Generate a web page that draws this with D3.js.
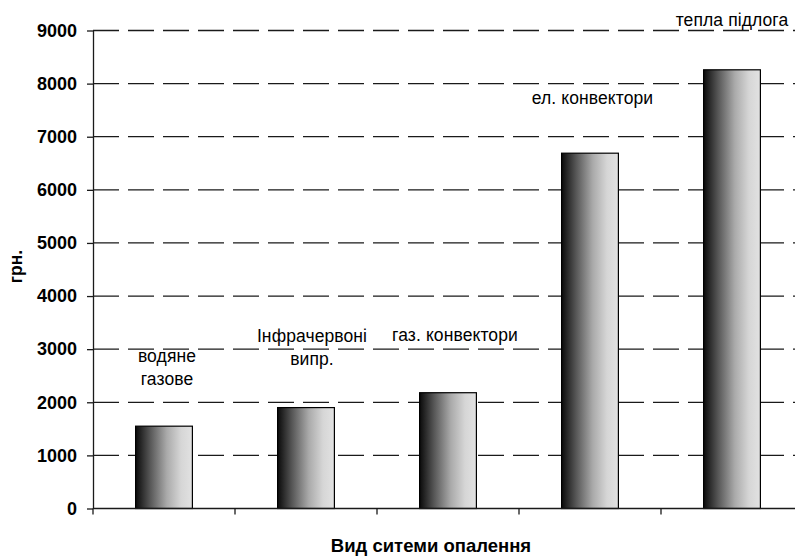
<!DOCTYPE html>
<html>
<head>
<meta charset="utf-8">
<script src="https://cdn.jsdelivr.net/npm/d3@7"></script>
<style>
  html, body { margin: 0; padding: 0; background: #fff; }
  svg { display: block; font-family: "Liberation Sans", Arial, sans-serif; }
</style>
</head>
<body>
<svg id="chart" width="795" height="557"></svg>
<script>
// Heating system types and their cost, UAH
const categories = ["водяне газове", "Інфрачервоні випр.", "газ. конвектори", "ел. конвектори", "тепла підлога"];
const costs = [1550, 1900, 2180, 6690, 8260];
// Annotation lines shown above each bar
const labelLines = [["водяне", "газове"], ["Інфрачервоні", "випр."], ["газ. конвектори"], ["ел. конвектори"], ["тепла підлога"]];
const yTicks = [0, 1000, 2000, 3000, 4000, 5000, 6000, 7000, 8000, 9000];
const yTitle = "грн.";
const xTitle = "Вид ситеми опалення";

const svg = d3.select("#chart");
const plot = { left: 93, right: 803, top: 30.5, bottom: 508.5 };

const x = d3.scaleBand().domain(categories).range([plot.left, plot.right]).paddingInner(0.6).paddingOuter(0.3);
const y = d3.scaleLinear().domain([0, 9000]).range([plot.bottom, plot.top]);

// Bar shading: dark on the left, fading to light grey on the right
const defs = svg.append("defs");
const grad = defs.append("linearGradient").attr("id", "barShade").attr("x1", "0").attr("x2", "1").attr("y1", "0").attr("y2", "0");
[[0, "#0a0a0a"], [0.25, "#555"], [0.55, "#aaa"], [0.8, "#d6d6d6"], [1, "#e2e2e2"]].forEach(([o, c]) =>
  grad.append("stop").attr("offset", o).attr("stop-color", c));

// Dashed horizontal gridlines
svg.append("g").selectAll("line").data(yTicks.filter(d => d > 0)).join("line")
  .attr("x1", plot.left).attr("x2", 795)
  .attr("y1", d => y(d)).attr("y2", d => y(d))
  .attr("stroke", "#1a1a1a").attr("stroke-width", 1.3)
  .attr("stroke-dasharray", "26,9");

// Bars
svg.append("g").selectAll("rect").data(costs).join("rect")
  .attr("x", (d, i) => x(categories[i]))
  .attr("width", x.bandwidth())
  .attr("y", d => y(d))
  .attr("height", d => y(0) - y(d))
  .attr("fill", "url(#barShade)")
  .attr("stroke", "#000").attr("stroke-width", 1.2);

// Y axis
const yAxis = svg.append("g").attr("transform", `translate(${plot.left},0)`)
  .call(d3.axisLeft(y).tickValues(yTicks).tickFormat(d3.format("d")).tickSize(6).tickPadding(10).tickSizeOuter(0));
yAxis.select(".domain").attr("stroke", "#1a1a1a").attr("stroke-width", 1.3);
yAxis.selectAll(".tick line").attr("stroke", "#1a1a1a").attr("stroke-width", 1.3);
yAxis.selectAll(".tick text").attr("font-size", 18).attr("font-weight", "bold").attr("fill", "#000")
  .attr("font-family", "Liberation Sans, Arial, sans-serif");

// X axis with ticks between categories
const xEdges = d3.range(categories.length + 1).map(i => plot.left + i * x.step());
svg.append("line").attr("x1", plot.left).attr("x2", 795).attr("y1", y(0)).attr("y2", y(0))
  .attr("stroke", "#1a1a1a").attr("stroke-width", 1.3);
svg.append("g").selectAll("line").data(xEdges).join("line")
  .attr("x1", d => d).attr("x2", d => d)
  .attr("y1", y(0)).attr("y2", y(0) + 6)
  .attr("stroke", "#1a1a1a").attr("stroke-width", 1.3);

// Category annotations
const labelPos = [
  { cx: 167, base: 362 },
  { cx: 312, base: 341.5 },
  { cx: 455, base: 341 },
  { cx: 592.5, base: 104 },
  { cx: 732, base: 25.5 }
];
labelLines.forEach((lines, i) => {
  const t = svg.append("text")
    .attr("x", labelPos[i].cx).attr("y", labelPos[i].base)
    .attr("text-anchor", "middle").attr("font-size", 17.5).attr("letter-spacing", 0.1).attr("fill", "#000");
  lines.forEach((ln, j) => {
    t.append("tspan").attr("x", labelPos[i].cx).attr("dy", j === 0 ? 0 : 23).text(ln);
  });
});

// Axis titles
svg.append("text").attr("transform", "translate(22,266.5) rotate(-90)")
  .attr("text-anchor", "middle").attr("font-size", 17.5).attr("font-weight", "bold").text(yTitle);
svg.append("text").attr("x", 431).attr("y", 552)
  .attr("text-anchor", "middle").attr("font-size", 18.5).attr("font-weight", "bold").text(xTitle);
</script>
</body>
</html>
